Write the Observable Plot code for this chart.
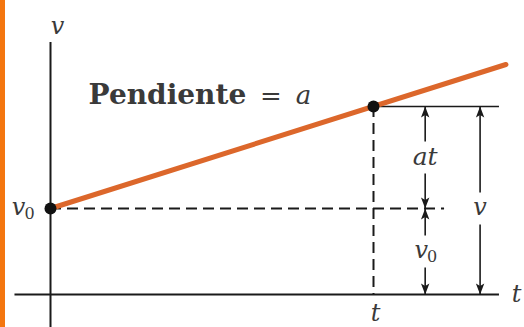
<!DOCTYPE html>
<html>
<head>
<meta charset="utf-8">
<script src="https://cdn.jsdelivr.net/npm/d3@7"></script>
<script src="https://cdn.jsdelivr.net/npm/@observablehq/plot@0.6"></script>
<style>
  body { margin: 0; background: #fff; }
  #wrap { position: relative; width: 524px; height: 327px; overflow: hidden; background: #fff; }
  #wrap .strip { position: absolute; left: 0; top: 0; width: 5px; height: 327px; background: #f4760f; z-index: 1; }
  #wrap svg { display: block; }
</style>
</head>
<body>
<div id="wrap"><div class="strip"></div></div>
<script>
// Velocity–time graph for motion with constant acceleration: v = v0 + a·t
const tMark = 1;            // the instant t marked on the time axis
const v0 = 0.86;            // initial velocity
const vt = 1.88;            // velocity reached at t
const lineT = [0, 1.41];    // the velocity line, from t = 0 to the right edge
const lineV = [0.86, 2.30];
const axisT = [-0.11, 1.39]; // extent of the time axis
const axisV = [-0.33, 2.52]; // extent of the velocity axis
const dashEnd = 1.22;        // right end of the dashed v0 guide
const guideEnd = 1.39;       // right end of the solid v guide

// Dimension arrows on the right: at, v0 and v
const dimLabels = ["at", "v0", "v"];
const dimX = [1.16, 1.16, 1.33];
const dimFrom = [v0, 0, 0];
const dimTo = [vt, v0, vt];
const dimLabelY = [(v0 + vt) / 2, v0 / 2, v0];
const gap = 0.16; // half the opening left around each label

const dims = dimLabels.map((label, i) => ({
  label, x: dimX[i], from: dimFrom[i], to: dimTo[i], mid: dimLabelY[i]
}));

const points = [{t: 0, v: v0}, {t: tMark, v: vt}];
const line = lineT.map((t, i) => ({t, v: lineV[i]}));

// Narrow filled arrowhead, tip at the origin, pointing up
const head = {
  draw(context) {
    context.moveTo(0, 0);
    context.lineTo(-4.2, 11);
    context.lineTo(0, 8.5);
    context.lineTo(4.2, 11);
    context.closePath();
  }
};

const serif = "DejaVu Serif";
const ink = "#1a1a1a";
const textInk = "#3a3a3a";
const mathFont = {fontFamily: serif, fontStyle: "italic", fontSize: 24, fill: textInk};
const subFont = {fontFamily: serif, fontSize: 16, fill: textInk};

// v with an upright subscript 0, centred on (x, y)
function vSub(x, y, dx = 0) {
  return [
    Plot.text([{x, y}], {x: "x", y: "y", text: () => "v", ...mathFont, dx: dx - 5, dy: -1}),
    Plot.text([{x, y}], {x: "x", y: "y", text: () => "0", ...subFont, dx: dx + 6, dy: 5})
  ];
}

const chart = Plot.plot({
  width: 524,
  height: 327,
  margin: 0,
  x: {domain: [0, 1], range: [50, 373], axis: null},
  y: {domain: [0, 1], range: [294, 194], axis: null},
  style: {background: "transparent"},
  marks: [
    // axes
    Plot.ruleX([0], {y1: () => axisV[0], y2: () => axisV[1], stroke: ink, strokeWidth: 2}),
    Plot.ruleY([0], {x1: () => axisT[0], x2: () => axisT[1], stroke: ink, strokeWidth: 2}),
    // guides
    Plot.ruleY([v0], {x1: () => 0, x2: () => dashEnd, stroke: ink, strokeWidth: 2, strokeDasharray: "11,6"}),
    Plot.ruleX([tMark], {y1: () => vt, y2: () => 0, stroke: ink, strokeWidth: 2, strokeDasharray: "11,6"}),
    Plot.ruleY([vt], {x1: () => tMark, x2: () => guideEnd, stroke: ink, strokeWidth: 1.6}),
    // velocity line
    Plot.line(line, {x: "t", y: "v", stroke: "#dc672b", strokeWidth: 5}),
    Plot.dot(points, {x: "t", y: "v", r: 6, fill: "#111", stroke: "none"}),
    // dimension arrows
    Plot.link(dims, {x1: "x", x2: "x", y1: d => d.mid + gap, y2: "to", stroke: ink, strokeWidth: 1.6}),
    Plot.link(dims, {x1: "x", x2: "x", y1: d => d.mid - gap, y2: "from", stroke: ink, strokeWidth: 1.6}),
    Plot.dot(dims, {x: "x", y: "to", symbol: head, fill: ink, stroke: "none"}),
    Plot.dot(dims, {x: "x", y: "from", symbol: head, rotate: 180, fill: ink, stroke: "none"}),
    // dimension labels
    Plot.text(dims.filter(d => d.label === "at"), {x: "x", y: "mid", text: "label", ...mathFont, fontSize: 25, dy: -1}),
    Plot.text(dims.filter(d => d.label === "v"), {x: "x", y: "mid", text: "label", ...mathFont, dy: -1}),
    ...vSub(dims[1].x, dims[1].mid, 1),
    // initial velocity on the vertical axis
    ...vSub(0, v0, -27),
    // axis names and the tick at t
    Plot.text([{t: 0, v: axisV[1]}], {x: "t", y: "v", text: () => "v", ...mathFont, dx: 7, dy: -16}),
    Plot.text([{t: axisT[1], v: 0}], {x: "t", y: "v", text: () => "t", ...mathFont, dx: 17, dy: 0}),
    Plot.text([{t: tMark, v: 0}], {x: "t", y: "v", text: () => "t", ...mathFont, dx: 2, dy: 19}),
    // slope annotation
    Plot.text([{t: 0.118, v: 1.99}], {x: "t", y: "v", text: () => "Pendiente", textAnchor: "start",
      fontFamily: serif, fontWeight: "bold", fontSize: 28, fill: textInk}),
    Plot.text([{t: 0.682, v: 1.98}], {x: "t", y: "v", text: () => "=",
      fontFamily: serif, fontSize: 26, fill: textInk}),
    Plot.text([{t: 0.783, v: 1.99}], {x: "t", y: "v", text: () => "a", ...mathFont, fontSize: 26})
  ]
});

document.getElementById("wrap").appendChild(chart);
</script>
</body>
</html>
